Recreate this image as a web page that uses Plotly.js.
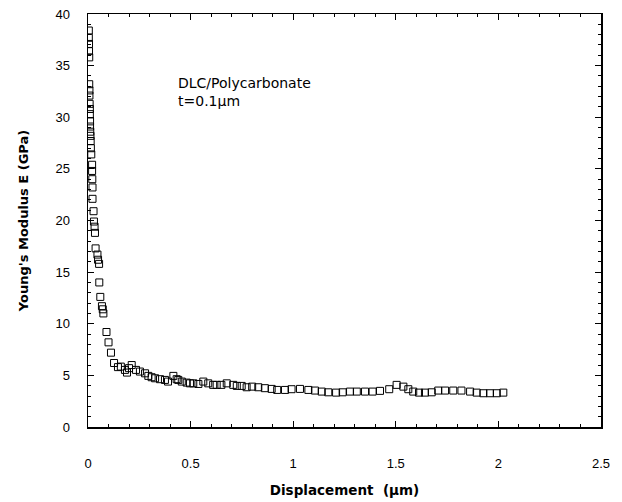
<!DOCTYPE html>
<html>
<head>
<meta charset="utf-8">
<script src="https://cdn.plot.ly/plotly-3.0.1.min.js"></script>
<style>html,body{margin:0;padding:0;background:#fff;}#chart{width:622px;height:502px;}</style>
</head>
<body>
<div id="chart"></div>
<script>
// Displacement (um)
var displacement = [
  0.004,0.004,0.005,0.005,0.006,0.006,0.007,0.007,0.008,0.009,0.009,0.010,0.010,0.011,0.012,0.013,0.014,0.016,
  0.020,0.020,0.021,0.022,0.022,0.027,0.029,0.032,0.034,0.037,0.046,0.049,0.054,0.055,0.060,0.068,
  0.072,0.075,0.090,0.100,0.112,0.127,0.146,0.160,0.180,0.190,0.200,0.213,0.234,0.253,0.278,0.294,
  0.310,0.327,0.351,0.375,0.390,0.416,0.432,0.440,0.457,0.481,0.497,0.513,0.538,0.562,0.586,0.610,
  0.627,0.650,0.676,0.708,0.725,0.749,0.773,0.800,0.830,0.862,0.895,0.922,0.960,0.992,1.033,1.074,
  1.106,1.139,1.171,1.209,1.241,1.277,1.310,1.350,1.387,1.423,1.468,1.504,1.537,1.561,1.585,1.613,
  1.642,1.675,1.707,1.740,1.780,1.820,1.862,1.894,1.927,1.959,1.992,2.024,2.043
];
// Young's Modulus E (GPa)
var modulus = [
  38.4,37.7,37.1,36.4,35.8,33.2,32.6,32.1,31.3,30.8,30.3,29.6,29.1,28.6,28.2,27.7,27.0,26.4,
  25.4,24.8,24.0,23.2,22.1,20.9,19.9,19.4,18.8,17.3,16.7,16.2,15.8,14.0,12.6,11.7,
  11.4,11.0,9.2,8.2,7.2,6.2,5.8,5.85,5.53,5.27,5.70,6.0,5.53,5.37,5.2,
  4.95,4.82,4.72,4.63,4.56,4.4,4.95,4.63,4.56,4.4,4.3,4.23,4.23,4.17,4.4,4.23,
  4.08,4.08,4.08,4.23,4.08,3.98,3.98,3.85,3.91,3.85,3.76,3.69,3.59,3.59,3.66,3.69,
  3.59,3.53,3.43,3.36,3.33,3.36,3.43,3.43,3.43,3.43,3.50,3.66,4.08,3.91,3.66,3.43,
  3.33,3.33,3.36,3.53,3.53,3.53,3.53,3.43,3.33,3.27,3.27,3.27,3.33
];
var xTickVals = [0, 0.5, 1, 1.5, 2, 2.5];
var xTickText = ['0', '0.5', '1', '1.5', '2', '2.5'];
var yTickVals = [0, 5, 10, 15, 20, 25, 30, 35, 40];

var trace = {
  x: displacement,
  y: modulus,
  type: 'scatter',
  mode: 'markers',
  marker: {symbol: 'square-open', size: 7, color: '#000', line: {width: 1, color: '#000'}},
  hoverinfo: 'x+y'
};

var fontFam = '"Liberation Sans", Arial, Helvetica, sans-serif';
var wideFam = '"DejaVu Sans", Verdana, sans-serif';
var layout = {
  width: 622, height: 502,
  margin: {l: 88, r: 21, t: 14, b: 75},
  paper_bgcolor: '#fff', plot_bgcolor: '#fff',
  showlegend: false,
  font: {family: fontFam, size: 13, color: '#000'},
  xaxis: {
    range: [0, 2.5], tickvals: xTickVals, ticktext: xTickText,
    ticks: 'inside', ticklen: 6, tickwidth: 1, tickcolor: '#000',
    showline: true, linecolor: '#000', linewidth: 1.5, mirror: 'ticks',
    showgrid: false, zeroline: false, ticklabelstandoff: 24,
    minor: {dtick: 0.1, tick0: 0, ticks: 'inside', ticklen: 3, tickcolor: '#000', showgrid: false},
    title: {text: '<b>Displacement  (μm)</b>', font: {family: wideFam, size: 13.5, color: '#000'}, standoff: 15}
  },
  yaxis: {
    range: [0, 40], tickvals: yTickVals,
    ticks: 'inside', ticklen: 6, tickwidth: 1, tickcolor: '#000',
    showline: true, linecolor: '#000', linewidth: 1.5, mirror: 'ticks',
    showgrid: false, zeroline: false, ticklabelstandoff: 14,
    minor: {dtick: 1, tick0: 0, ticks: 'inside', ticklen: 3, tickcolor: '#000', showgrid: false},
    title: {text: "<b>Young's Modulus E (GPa)</b>", font: {family: wideFam, size: 13, color: '#000'}, standoff: 24}
  },
  annotations: [{
    xref: 'paper', yref: 'paper', x: 0.1715, y: 0.857, xanchor: 'left', yanchor: 'top',
    text: 'DLC/Polycarbonate<br>t=0.1μm', showarrow: false, align: 'left',
    font: {family: wideFam, size: 14, color: '#000'}
  }]
};
Plotly.newPlot('chart', [trace], layout, {displayModeBar: false, staticPlot: true});
</script>
</body>
</html>
